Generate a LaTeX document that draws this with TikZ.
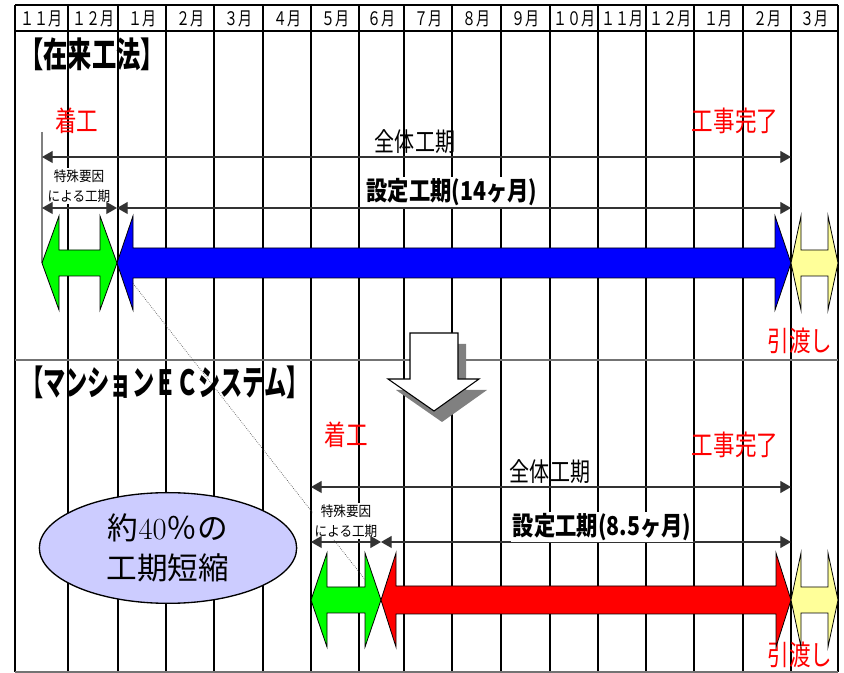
\documentclass[tikz,border=0pt]{standalone}
\usepackage{fontspec}
\usepackage{tikz}
\usetikzlibrary{arrows.meta,shapes.geometric}
\newfontfamily\jp{Noto Sans CJK JP}
\definecolor{phasegreen}{HTML}{00FF00}
\definecolor{phaseblue}{HTML}{0000FF}
\definecolor{phasered}{HTML}{FF0000}
\definecolor{handover}{HTML}{FFFF99}
\definecolor{cutfill}{HTML}{CCCCFF}
\newcommand{\hsqueeze}[2][0.8]{\scalebox{#1}[1]{#2}}
% fill, left tip, right tip, centre y, head length, half shaft
\newcommand{\phasearrow}[6]{%
  \draw[arrowbody, fill=#1] (#2,#4) -- (#2+#5,#4-47) -- (#2+#5,#4-#6) -- (#3-#5,#4-#6)
    -- (#3-#5,#4-47) -- (#3,#4) -- (#3-#5,#4+47) -- (#3-#5,#4+#6) -- (#2+#5,#4+#6)
    -- (#2+#5,#4+47) -- cycle;}

\begin{document}
\begin{tikzpicture}[x=0.75pt, y=-0.75pt,
    gridline/.style = {line width=1.4pt},
    thickline/.style = {line width=2.2pt},
    rowline/.style = {line width=1.3pt, black!55},
    month/.style = {font=\jp\fontsize{14}{14}\selectfont, inner sep=0pt},
    title/.style = {font=\jp\bfseries\fontsize{26}{28}\selectfont, inner sep=0pt},
    milestone/.style = {font=\jp\fontsize{21}{22}\selectfont, text=red, inner sep=0pt},
    span/.style = {font=\jp\fontsize{19.5}{20}\selectfont, inner sep=0pt},
    setspan/.style = {font=\jp\bfseries\fontsize{19.5}{20}\selectfont, fill=white, inner sep=1pt},
    cause/.style = {font=\jp\fontsize{10.5}{15}\selectfont, fill=white, inner sep=1pt, align=center},
    dimline/.style = {black!80, line width=0.8pt, {Triangle[length=8pt,width=9pt]}-{Triangle[length=8pt,width=9pt]}},
    arrowbody/.style = {draw=black, line width=0.6pt},
  ]
  \useasboundingbox (0,0) rectangle (844,673);

  % month grid
  \foreach \x in {15,68,166,214,263,311,359,404,452,501,550,598,646,743,791,838}
    \draw[gridline] (\x,5) -- (\x,672);
  \foreach \x in {118,694}
    \draw[thickline] (\x,5) -- (\x,672);
  \draw[gridline] (15,5) -- (838,5);
  \draw[gridline] (15,31) -- (838,31);
  \draw[rowline] (15,360) -- (838,360);
  \draw[rowline] (15,672) -- (838,672);

  \foreach \xl/\xr/\m [count=\i] in {15/68/１１,68/118/１２,118/166/１,166/214/２,214/263/３,
      263/311/４,311/359/５,359/404/６,404/452/７,452/501/８,501/550/９,550/598/１０,
      598/646/１１,646/694/１２,694/743/１,743/791/２,791/838/３}
    \node[month] (m\i) at ({(\xl+\xr)/2},19) {\hsqueeze[0.75]{\m 月}};

  % connector ends
  \coordinate (oldMark) at (42,132);
  \coordinate (oldStart) at (42,157);
  \coordinate (oldEnd) at (791,157);
  \coordinate (oldSpStart) at (42,208);
  \coordinate (oldSpEnd) at (117,208);
  \coordinate (oldSetEnd) at (791,208);
  \coordinate (oldGreenTip) at (42,263);
  \coordinate (oldTip) at (117,263);
  \coordinate (ecStart) at (311,487);
  \coordinate (ecEnd) at (791,487);
  \coordinate (ecSpStart) at (311,542);
  \coordinate (ecSpEnd) at (381,542);
  \coordinate (ecSetEnd) at (791,542);
  \coordinate (ecTip) at (381,600);

  \draw[densely dotted, black!70, line width=0.5pt] (oldTip) -- (ecTip);
  \draw[black!50, line width=1.5pt] (oldMark) -- (oldGreenTip);

  % conventional method
  \node[title] (oldTitle) at (92,54) {\hsqueeze[0.7]{【在来工法】}};
  \node[milestone] (oldBegin) at (77,121) {\hsqueeze[0.77]{着工}};
  \node[milestone] (oldDone) at (735,121) {\hsqueeze[0.77]{工事完了}};
  \node[milestone] (oldHand) at (800,341) {\hsqueeze[0.77]{引渡し}};
  \node[span] (oldAll) at (415,142) {\hsqueeze[0.77]{全体工期}};
  \draw[dimline] (oldStart) -- (oldEnd);
  \node[cause] (oldCause) at (79,186) {\hsqueeze[0.9]{特殊要因}\\\hsqueeze[0.9]{による工期}};
  \draw[dimline] (oldSpStart) -- (oldSpEnd);
  \draw[dimline] (oldSpEnd) -- (oldSetEnd);
  \node[setspan] (oldSet) at (452,192) {\hsqueeze[0.82]{設定工期(14ヶ月)}};
  \phasearrow{phasegreen}{42}{117}{263}{17}{13}
  \phasearrow{phaseblue}{117}{791}{263}{16}{15}
  \phasearrow{handover}{791}{838}{263}{10}{13}

  % big down arrow
  \fill[black!50, shift={(8,11)}] (410,333) -- (458,333) -- (458,379) -- (479,379)
    -- (434,411) -- (388,379) -- (410,379) -- cycle;
  \draw[fill=white, line width=0.8pt] (410,333) -- (458,333) -- (458,379) -- (479,379)
    -- (434,411) -- (388,379) -- (410,379) -- cycle;

  % EC system
  \node[title] (ecTitle) at (165,382) {\hsqueeze[0.64]{【マンションＥＣシステム】}};
  \node[milestone] (ecBegin) at (346,435) {\hsqueeze[0.77]{着工}};
  \node[milestone] (ecDone) at (735,445) {\hsqueeze[0.77]{工事完了}};
  \node[milestone] (ecHand) at (800,655) {\hsqueeze[0.77]{引渡し}};
  \node[span] (ecAll) at (550,472) {\hsqueeze[0.77]{全体工期}};
  \draw[dimline] (ecStart) -- (ecEnd);
  \node[cause] (ecCause) at (346,521) {\hsqueeze[0.9]{特殊要因}\\\hsqueeze[0.9]{による工期}};
  \draw[dimline] (ecSpStart) -- (ecSpEnd);
  \draw[dimline] (ecSpEnd) -- (ecSetEnd);
  \node[setspan] (ecSet) at (602,527) {\hsqueeze[0.82]{設定工期(8.5ヶ月)}};
  \phasearrow{phasegreen}{311}{381}{600}{16}{13}
  \phasearrow{phasered}{381}{791}{600}{15}{14}
  \phasearrow{handover}{791}{838}{600}{10}{13}

  \node[ellipse, draw, line width=1pt, fill=cutfill, minimum width=193pt, minimum height=83pt,
        font=\jp\fontsize{23}{30}\selectfont, align=center] (cut) at (168,548)
    {約{\rmfamily 40}％の\\工期短縮};
\end{tikzpicture}
\end{document}
